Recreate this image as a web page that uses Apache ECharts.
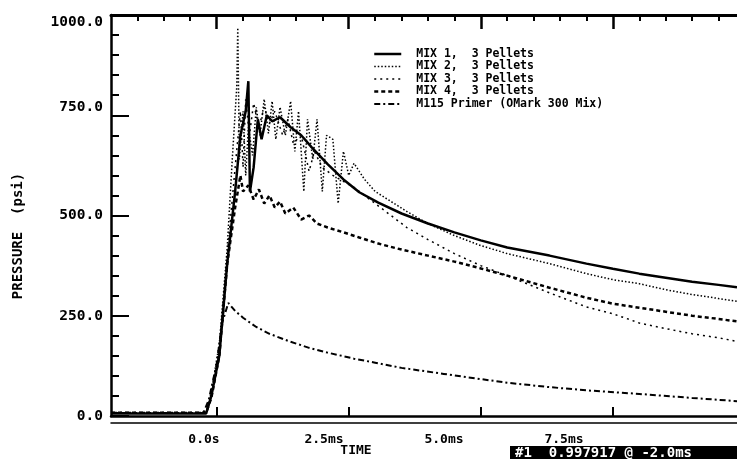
<!DOCTYPE html>
<html>
<head>
<meta charset="utf-8">
<script src="https://cdn.jsdelivr.net/npm/echarts@6/dist/echarts.min.js"></script>
<style>
  html, body { margin: 0; padding: 0; background: #fff; }
  #chart { width: 737px; height: 459px; }
</style>
</head>
<body>
<div id="chart"></div>
<script>
// series names
var seriesNames = ['MIX 1,  3 Pellets', 'MIX 2,  3 Pellets', 'MIX 3,  3 Pellets', 'MIX 4,  3 Pellets', 'M115 Primer (OMark 300 Mix)'];

// time (ms) / pressure (psi)
var mix1Time = [-2, -0.2, -0.1, 0.05, 0.2, 0.35, 0.45, 0.55, 0.6, 0.63, 0.7, 0.78, 0.85, 0.95, 1.05, 1.2, 1.4, 1.6, 1.8, 2.1, 2.4, 2.7, 3.06, 3.5, 4.0, 4.5, 5.0, 5.5, 6.3, 7.0, 7.5, 8.0, 8.5, 9.0, 9.5, 9.85];
var mix1Psi  = [6, 6, 50, 150, 380, 560, 700, 760, 835, 560, 620, 740, 690, 750, 735, 745, 720, 700, 670, 628, 590, 558, 532, 505, 480, 458, 438, 420, 400, 380, 367, 355, 345, 335, 327, 321];

var mix2Time = [-2, -0.2, -0.1, 0.05, 0.2, 0.3, 0.38, 0.4, 0.43, 0.5, 0.55, 0.6, 0.68, 0.75, 0.82, 0.9, 0.98, 1.05, 1.12, 1.2, 1.3, 1.4, 1.48, 1.55, 1.65, 1.72, 1.82, 1.9, 2.0, 2.08, 2.2, 2.3, 2.4, 2.5, 2.6, 2.8, 3.0, 3.3, 3.6, 4.0, 4.5, 5.0, 5.5, 6.3, 7.0, 7.5, 8.0, 8.5, 9.0, 9.5, 9.85];
var mix2Psi  = [8, 8, 60, 180, 420, 650, 820, 968, 640, 760, 600, 720, 650, 770, 700, 790, 705, 785, 690, 770, 700, 785, 660, 760, 560, 740, 640, 740, 560, 700, 690, 530, 660, 600, 630, 590, 560, 535, 510, 480, 450, 425, 405, 380, 355, 340, 330, 315, 303, 293, 286];

var mix3Time = [-2, -0.2, -0.1, 0.05, 0.2, 0.35, 0.45, 0.5, 0.55, 0.62, 0.7, 0.8, 0.9, 1.0, 1.1, 1.25, 1.35, 1.45, 1.6, 1.75, 1.85, 2.0, 2.2, 2.4, 2.6, 2.8, 3.0, 3.3, 3.6, 4.0, 4.5, 5.0, 5.5, 6.3, 7.0, 7.5, 8.0, 8.5, 9.0, 9.5, 9.85];
var mix3Psi  = [8, 8, 50, 160, 400, 620, 760, 620, 790, 700, 780, 720, 770, 730, 760, 700, 740, 680, 700, 610, 660, 620, 600, 585, 570, 550, 530, 500, 470, 440, 405, 375, 350, 307, 272, 255, 232, 218, 205, 195, 186];

var mix4Time = [-2, -0.2, -0.1, 0.05, 0.2, 0.35, 0.45, 0.5, 0.6, 0.7, 0.8, 0.9, 1.0, 1.1, 1.2, 1.3, 1.45, 1.6, 1.75, 1.9, 2.1, 2.4, 2.7, 3.06, 3.5, 4.0, 4.5, 5.0, 5.5, 6.3, 7.0, 7.5, 8.0, 8.5, 9.0, 9.5, 9.85];
var mix4Psi  = [8, 8, 45, 150, 380, 520, 600, 560, 575, 540, 565, 530, 550, 520, 535, 505, 520, 490, 500, 480, 470, 458, 445, 430, 415, 400, 385, 368, 350, 320, 295, 280, 270, 260, 250, 242, 236];

var m115Time = [-2, -0.25, -0.15, 0, 0.1, 0.22, 0.35, 0.5, 0.75, 1.0, 1.36, 1.75, 2.1, 2.6, 3.0, 3.5, 4.3, 5.0, 5.5, 6.3, 7.0, 8.0, 9.0, 9.85];
var m115Psi  = [8, 8, 40, 130, 230, 282, 262, 245, 222, 205, 187, 170, 158, 143, 133, 120, 105, 92, 83, 72, 64, 55, 45, 37];

// axis ticks
var timeMajorTicks = [0, 2.5, 5, 7.5];
var timeMinorTicks = [-1.5, -1, -0.5, 0.5, 1, 1.5, 2, 3, 3.5, 4, 4.5, 5.5, 6, 6.5, 7, 8, 8.5, 9, 9.5];
var timeLabels = ['0.0s', '2.5ms', '5.0ms', '7.5ms'];

function zip(t, p) {
    return t.map(function (v, i) { return [v, p[i]]; });
}

var font = 'DejaVu Sans Mono';
var xMin = -2, xMax = 9.85;

var lineStyles = [
    { width: 2.5, type: 'solid' },
    { width: 1.5, type: [1.5, 2] },
    { width: 1.5, type: [2, 4] },
    { width: 2.5, type: [4, 3] },
    { width: 2, type: [6, 3, 2, 3] }
];
var seriesData = [zip(mix1Time, mix1Psi), zip(mix2Time, mix2Psi), zip(mix3Time, mix3Psi), zip(mix4Time, mix4Psi), zip(m115Time, m115Psi)];

var option = {
    animation: false,
    backgroundColor: '#fff',
    grid: { left: 111, top: 15, right: 0, bottom: 43 },
    legend: {
        orient: 'vertical',
        left: 368,
        top: 43,
        itemWidth: 27,
        itemHeight: 10,
        itemGap: 0.5,
        textStyle: { color: '#000', fontFamily: font, fontWeight: 'bold', fontSize: 11.5, lineHeight: 12, padding: [0, 0, 0, 10] },
        data: seriesNames.map(function (name, i) {
            return {
                name: name,
                icon: 'line',
                itemStyle: { color: '#000', borderColor: '#000', borderWidth: lineStyles[i].width, borderType: lineStyles[i].type }
            };
        })
    },
    xAxis: [
        { // bottom frame, major ticks
            type: 'value', position: 'bottom', min: xMin, max: xMax,
            axisLine: { onZero: false, lineStyle: { color: '#000', width: 2.5 } },
            axisTick: { inside: true, length: 9, lineStyle: { width: 2 }, customValues: timeMajorTicks },
            axisLabel: { show: false },
            splitLine: { show: false }
        },
        { // top frame, minor ticks
            type: 'value', position: 'top', min: xMin, max: xMax,
            axisLine: { onZero: false, lineStyle: { color: '#000', width: 3 } },
            axisTick: { inside: true, length: 6, lineStyle: { width: 2 }, customValues: timeMinorTicks },
            axisLabel: { show: false },
            splitLine: { show: false }
        },
        { // top frame, major ticks
            type: 'value', position: 'top', min: xMin, max: xMax,
            axisLine: { show: false, onZero: false },
            axisTick: { inside: true, length: 14, lineStyle: { width: 2.5, color: '#000' }, customValues: timeMajorTicks },
            axisLabel: { show: false },
            splitLine: { show: false }
        },
        { // second rule under the bottom frame
            type: 'value', position: 'bottom', offset: 7, min: xMin, max: xMax,
            axisLine: { onZero: false, lineStyle: { color: '#000', width: 1.5 } },
            axisTick: { show: false },
            axisLabel: { show: false },
            splitLine: { show: false }
        },
        { // time labels as printed (spacing of the plotter labels)
            type: 'value', position: 'bottom', min: -1.9375, max: 11.104,
            axisLine: { show: false, onZero: false },
            axisTick: { show: false },
            splitLine: { show: false },
            axisLabel: {
                customValues: timeMajorTicks,
                margin: 17,
                color: '#000', fontFamily: font, fontWeight: 'bold', fontSize: 13,
                formatter: function (v) { return timeLabels[timeMajorTicks.indexOf(v)]; }
            }
        }
    ],
    yAxis: [{
        type: 'value', position: 'left', min: 0, max: 1000, interval: 250,
        axisLine: { show: true, onZero: false, lineStyle: { color: '#000', width: 2.5 } },
        axisTick: { show: true, inside: true, length: 18, lineStyle: { width: 2 } },
        minorTick: { show: true, splitNumber: 5, length: 8, lineStyle: { color: '#000', width: 2 } },
        splitLine: { show: false },
        axisLabel: {
            margin: 8, color: '#000', fontFamily: font, fontWeight: 'bold', fontSize: 14.5,
            formatter: function (v) {
                // the plotter printed the two top labels a little off their ticks
                if (v === 1000) return '{dn|' + v.toFixed(1) + '}';
                if (v === 750) return '{up|' + v.toFixed(1) + '}';
                return v.toFixed(1);
            },
            rich: {
                dn: { fontFamily: font, fontWeight: 'bold', fontSize: 14.5, color: '#000', padding: [14, 0, 0, 0] },
                up: { fontFamily: font, fontWeight: 'bold', fontSize: 14.5, color: '#000', padding: [0, 0, 16, 0] }
            }
        }
    }],
    graphic: [
        {
            type: 'text', x: 18, y: 236, rotation: Math.PI / 2,
            style: { text: 'PRESSURE  (psi)', fill: '#000', font: 'bold 14px "DejaVu Sans Mono"', align: 'center', verticalAlign: 'middle' }
        },
        {
            type: 'text', x: 356, y: 451,
            style: { text: 'TIME', fill: '#000', font: 'bold 13px "DejaVu Sans Mono"', align: 'center', verticalAlign: 'middle' }
        },
        {
            type: 'rect', shape: { x: 510, y: 446, width: 227, height: 13 },
            style: { fill: '#000' }
        },
        {
            type: 'text', x: 515, y: 453,
            style: { text: '#1  0.997917 @ -2.0ms', fill: '#fff', font: 'bold 14px "DejaVu Sans Mono"', align: 'left', verticalAlign: 'middle' }
        }
    ],
    series: seriesNames.map(function (name, i) {
        return {
            name: name,
            type: 'line',
            xAxisIndex: 0,
            yAxisIndex: 0,
            symbol: 'none',
            color: '#000',
            lineStyle: { color: '#000', width: lineStyles[i].width, type: lineStyles[i].type },
            data: seriesData[i]
        };
    })
};

echarts.init(document.getElementById('chart')).setOption(option);
</script>
</body>
</html>
